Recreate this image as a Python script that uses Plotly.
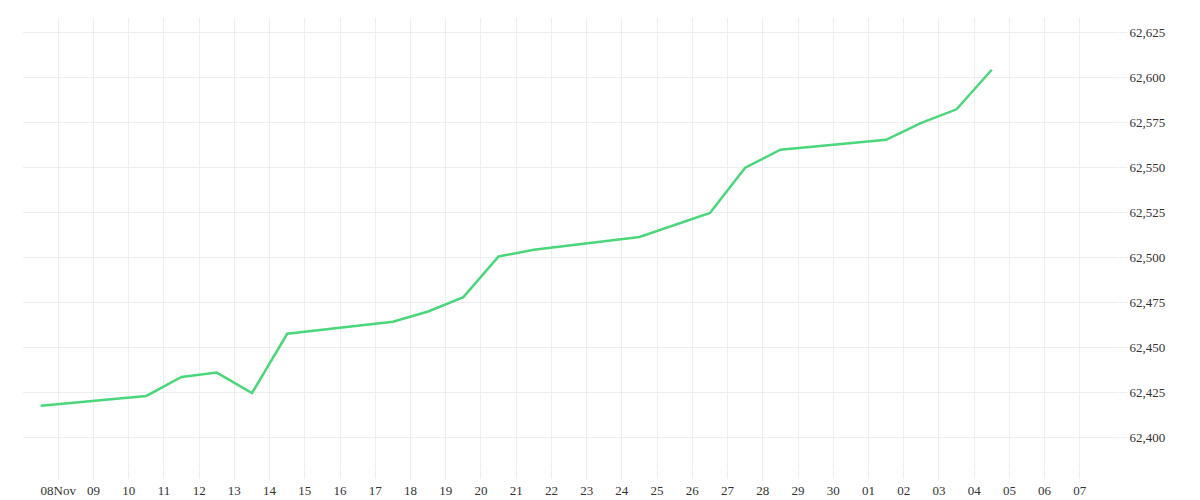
import plotly.graph_objects as go

# --- Daten ---
dates = [
    '2023-11-07 12:00', '2023-11-10 12:00', '2023-11-11 12:00', '2023-11-12 12:00',
    '2023-11-13 12:00', '2023-11-14 12:00', '2023-11-17 12:00', '2023-11-18 12:00',
    '2023-11-19 12:00', '2023-11-20 12:00', '2023-11-21 12:00', '2023-11-24 12:00',
    '2023-11-26 12:00', '2023-11-27 12:00', '2023-11-28 12:00', '2023-12-01 12:00',
    '2023-12-02 12:00', '2023-12-03 12:00', '2023-12-04 12:00',
]
values = [
    62417.6, 62423.0, 62433.6, 62436.0, 62424.6, 62457.6, 62464.3, 62470.0,
    62478.0, 62500.6, 62504.4, 62511.5, 62524.8, 62550.0, 62560.0, 62565.5,
    62575.0, 62582.5, 62604.5,
]

tick_days = ['2023-11-%02d' % d for d in range(8, 31)] + ['2023-12-%02d' % d for d in range(1, 8)]
tick_labels = ['08Nov'] + ['%02d' % d for d in range(9, 31)] + ['%02d' % d for d in range(1, 8)]

fig = go.Figure(go.Scatter(
    x=dates, y=values, mode='lines',
    line=dict(color='#4cd67c', width=2.5),
))

fig.update_layout(
    width=1200, height=500,
    margin=dict(l=15, r=90, t=10, b=33),
    plot_bgcolor='white', paper_bgcolor='white',
    showlegend=False,
    font=dict(family='Liberation Serif', size=13, color='#333'),
    xaxis=dict(
        type='date', range=['2023-11-07 00:00', '2023-12-08 02:00'],
        tickvals=tick_days, ticktext=tick_labels,
        showgrid=True, gridcolor='#eeeeee', zeroline=False,
        ticks='outside', ticklen=8, tickcolor='#eeeeee',
    ),
    yaxis=dict(
        side='right', range=[62381.8, 62633.3],
        tickvals=[62400, 62425, 62450, 62475, 62500, 62525, 62550, 62575, 62600, 62625],
        tickformat=',d',
        showgrid=True, gridcolor='#eeeeee', zeroline=False,
        ticks='outside', ticklen=8, tickcolor='#eeeeee',
    ),
)

fig.write_html('out.html')
